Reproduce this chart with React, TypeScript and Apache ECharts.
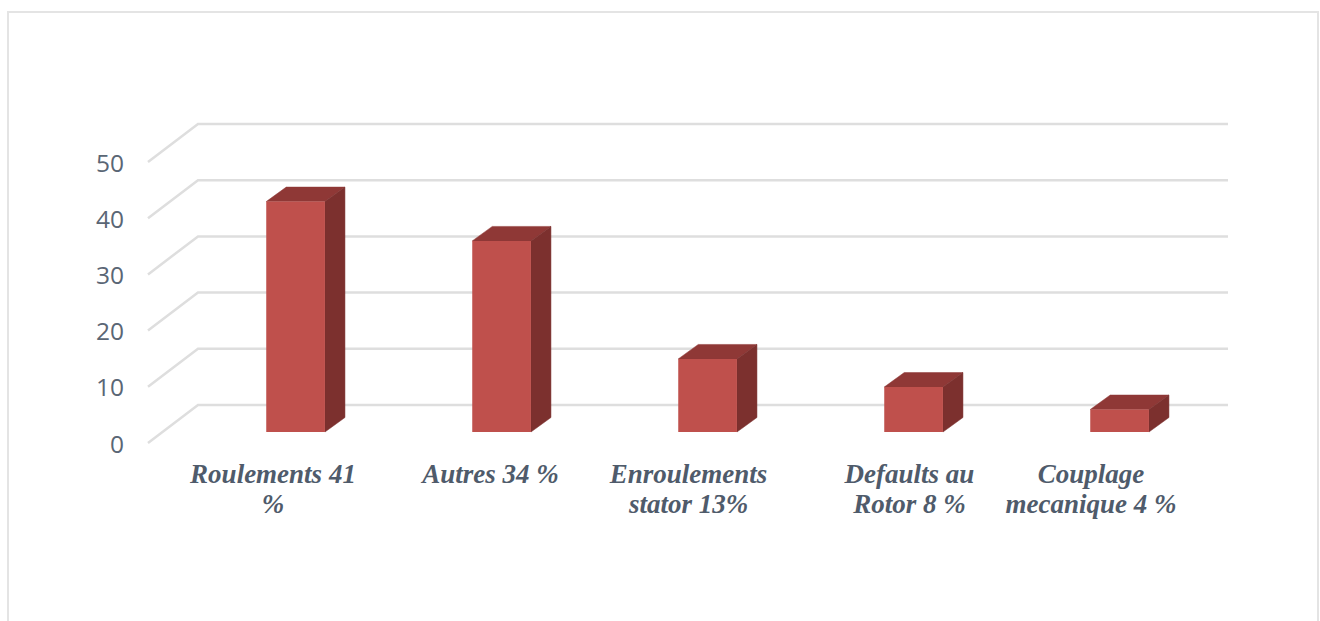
import React, { useEffect, useRef } from "react";
import * as echarts from "echarts";

const categories = [
  "Roulements 41\n%",
  "Autres 34 %",
  "Enroulements\nstator 13%",
  "Defaults au\nRotor 8 %",
  "Couplage\nmecanique 4 %",
];
const values = [41, 34, 13, 8, 4];
const gridValues = [0, 10, 20, 30, 40, 50];
// Horizontal nudge of each category label from the centre of its band.
const labelShift = [22, 33.5, 25.5, 40.5, 16];

// Oblique projection of the 3D look.
const WALL_DX = 50;
const WALL_DY = -38;
const BAR_DX = 44.6;
const BAR_DY = -11;
const DEPTH_DX = 20;
const DEPTH_DY = -14.5;
const BAR_RATIO = 0.285;

const FRONT = "#BF504C";
const TOP = "#8F3836";
const SIDE = "#7C302E";
const GRID = "#DEDEDE";
const LABEL = "#4F5B6B";

function renderGridLine(params: any, api: any) {
  const cs = params.coordSys;
  const y = api.coord([0, api.value(0)])[1];
  return {
    type: "polyline",
    silent: true,
    shape: {
      points: [
        [cs.x, y],
        [cs.x + WALL_DX, y + WALL_DY],
        [cs.x + cs.width + WALL_DX, y + WALL_DY],
      ],
    },
    style: { stroke: GRID, lineWidth: 2.5, fill: "none" },
  };
}

function renderBar(_params: any, api: any) {
  const idx = api.value(0);
  const top = api.coord([idx, api.value(1)]);
  const base = api.coord([idx, 0]);
  const w = api.size([1, 0])[0] * BAR_RATIO;
  const l = top[0] + BAR_DX - w / 2;
  const r = l + w;
  const t = top[1] + BAR_DY;
  const b = base[1] + BAR_DY;
  return {
    type: "group",
    silent: true,
    children: [
      {
        type: "polygon",
        shape: { points: [[l, t], [l + DEPTH_DX, t + DEPTH_DY], [r + DEPTH_DX, t + DEPTH_DY], [r, t]] },
        style: { fill: TOP, stroke: TOP, lineWidth: 0.5 },
      },
      {
        type: "polygon",
        shape: { points: [[r, t], [r + DEPTH_DX, t + DEPTH_DY], [r + DEPTH_DX, b + DEPTH_DY], [r, b]] },
        style: { fill: SIDE, stroke: SIDE, lineWidth: 0.5 },
      },
      {
        type: "rect",
        shape: { x: l, y: t, width: w, height: b - t },
        style: { fill: FRONT },
      },
    ],
  };
}

export default function App() {
  const ref = useRef<HTMLDivElement>(null);

  useEffect(() => {
    const chart = echarts.init(ref.current!, undefined, { renderer: "svg" });
    chart.setOption({
      animation: false,
      backgroundColor: "#ffffff",
      graphic: [
        {
          type: "rect",
          silent: true,
          shape: { x: 8, y: 12, width: 1310, height: 700 },
          style: { fill: "none", stroke: "#E4E4E4", lineWidth: 2 },
        },
      ],
      grid: { left: 148, top: 162, width: 1030, height: 281 },
      xAxis: {
        type: "category",
        data: categories.map((value, i) => ({
          value,
          textStyle: { padding: [0, 0, 0, labelShift[i] * 2] },
        })),
        axisLine: { show: false },
        axisTick: { show: false },
        axisLabel: {
          interval: 0,
          margin: 16,
          color: LABEL,
          fontFamily: "Liberation Serif",
          fontStyle: "italic",
          fontWeight: "bold",
          fontSize: 27,
          lineHeight: 30,
          align: "center",
        },
      },
      yAxis: {
        type: "value",
        min: 0,
        max: 50,
        interval: 10,
        axisLine: { show: false },
        axisTick: { show: false },
        splitLine: { show: false },
        axisLabel: {
          margin: 24,
          color: "#5A6675",
          fontFamily: "Open Sans",
          fontSize: 24.5,
          padding: [4, 0, 0, 0],
        },
      },
      series: [
        {
          type: "custom",
          renderItem: renderGridLine,
          data: gridValues.map((v) => [v]),
          encode: { y: 0 },
          clip: false,
          z: 1,
        },
        {
          type: "custom",
          renderItem: renderBar,
          data: values.map((v, i) => [i, v]),
          encode: { x: 0, y: 1 },
          clip: false,
          z: 2,
        },
      ],
    });
    return () => chart.dispose();
  }, []);

  return <div ref={ref} style={{ position: "absolute", left: 0, top: 0, width: 1320, height: 621 }} />;
}
